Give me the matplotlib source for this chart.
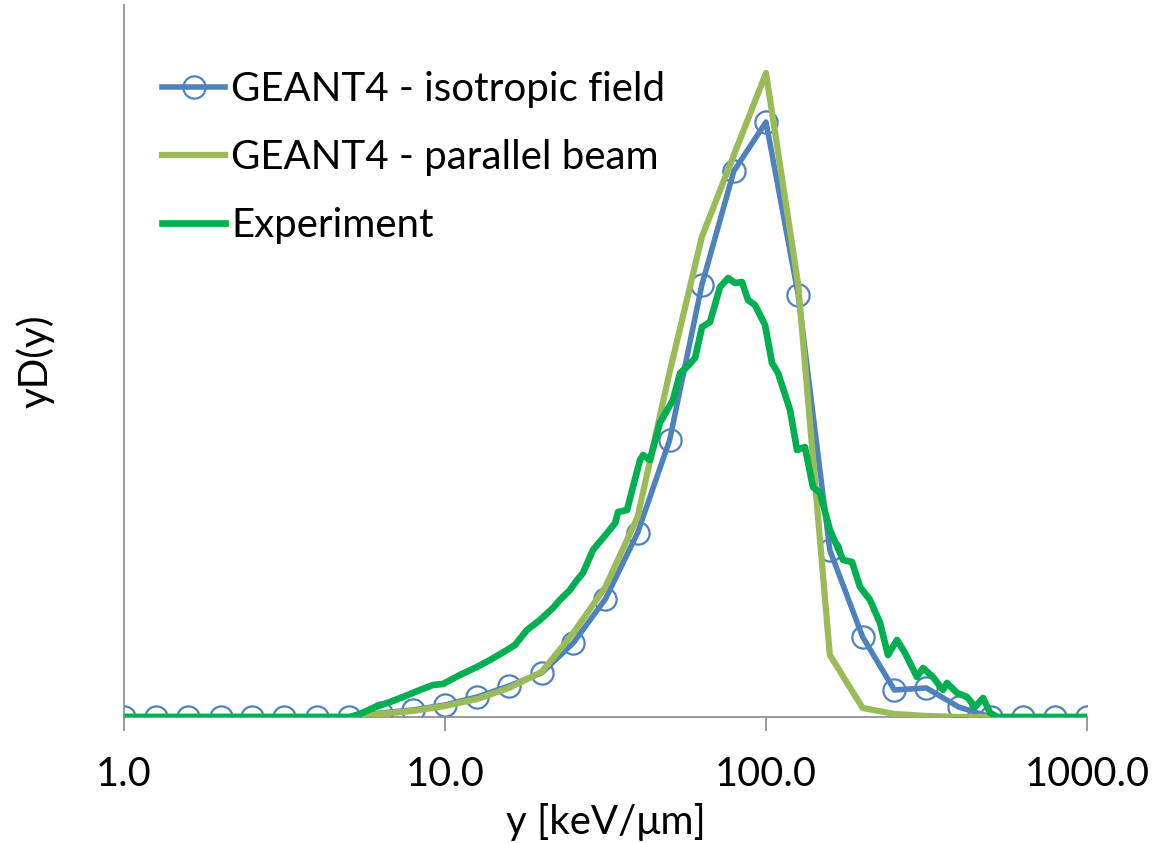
import matplotlib
matplotlib.use("Agg")
import matplotlib.pyplot as plt

plt.rcParams['font.family'] = ['Lato', 'DejaVu Sans']

# GEANT4 isotropic field (10 bins per decade)
x_iso = [1.0, 1.26, 1.58, 2.0, 2.51, 3.16, 3.98, 5.01, 6.31, 7.94,
         10.0, 12.6, 15.8, 20.0, 25.1, 31.6, 39.8, 50.1, 63.1, 79.4,
         100.0, 126.0, 158.0, 200.0, 251.0, 316.0, 398.0, 501.0, 631.0, 794.0, 1000.0]
y_iso = [0, 0, 0, 0, 0, 0, 0, 0, 4, 7,
         12, 20, 31, 44, 74, 118, 184, 277, 432, 546,
         595, 422, 167, 80, 27, 29, 10, 0, 0, 0, 0]

# GEANT4 parallel beam
x_par = [1.0, 1.26, 1.58, 2.0, 2.51, 3.16, 3.98, 5.01, 6.31, 7.94,
         10.0, 12.6, 15.8, 20.0, 25.1, 31.6, 39.8, 50.1, 63.1, 79.4,
         100.0, 126.0, 158.0, 200.0, 251.0, 316.0, 398.0, 501.0]
y_par = [0, 0, 0, 0, 0, 0, 0, 0, 3, 6,
         11, 18, 29, 45, 84, 130, 200, 345, 480, 562,
         644, 432, 62, 9, 3, 1, 0, 0]

# experiment
x_exp = [1.0, 5.06, 5.43, 5.97, 6.74, 7.40, 8.36, 9.18, 9.86, 11.13,
         12.58, 13.81, 15.61, 16.52, 18.0, 19.77, 21.7, 22.8, 24.5, 25.8,
         26.9, 28.9, 32.0, 33.9, 34.6, 36.9, 40.5, 41.4, 43.5, 46.7,
         51.3, 54.0, 56.7, 60.1, 63.2, 66.9, 71.9, 76.2, 80.0, 84.2,
         87.9, 92.4, 99.3, 104.4, 109.0, 118.8, 124.9, 132.2, 140.0, 147.3,
         158.2, 173.8, 185.3, 196.3, 210.9, 226.5, 239.9, 255.9, 271.0, 295.1,
         308.3, 331.1, 355.8, 366.3, 393.6, 422.7, 447.9, 474.4, 498.9, 524.8,
         1000.0]
y_exp = [0, 0, 3, 9, 15, 20, 27, 32, 33, 42,
         50, 57, 67, 72, 87, 97, 109, 117, 127, 137,
         144, 167, 184, 194, 205, 207, 257, 262, 257, 294,
         317, 344, 350, 359, 390, 395, 430, 439, 434, 435,
         417, 412, 392, 354, 344, 307, 267, 270, 230, 224,
         187, 157, 155, 130, 117, 94, 62, 77, 64, 40,
         49, 40, 27, 34, 24, 20, 10, 19, 4, 0,
         0]

fig = plt.figure(figsize=(11.53, 8.43), dpi=100)
ax = fig.add_axes([0.1075, 0.1495, 0.8353, 0.8445])

ax.plot(x_iso, y_iso, color='#4F81BD', lw=4, marker='o', ms=16,
        mfc='none', mec='#4F81BD', mew=1.6, label='GEANT4 - isotropic field', zorder=2)
ax.plot(x_par, y_par, color='#9BBB59', lw=4.5, label='GEANT4 - parallel beam', zorder=3)
ax.plot(x_exp, y_exp, color='#00B050', lw=4.8, label='Experiment', zorder=4)

ax.set_xscale('log')
ax.set_xlim(1, 1000)
ax.set_ylim(0, 712)
ax.set_xticks([1, 10, 100, 1000])
ax.set_xticklabels(['1.0', '10.0', '100.0', '1000.0'])
ax.minorticks_off()
ax.set_yticks([])

for s in ['top', 'right']:
    ax.spines[s].set_visible(False)
for s in ['left', 'bottom']:
    ax.spines[s].set_color('#898989')
    ax.spines[s].set_linewidth(1.2)
ax.tick_params(axis='x', direction='out', length=10, width=1.2, color='#898989',
               labelsize=28.5, pad=18)

ax.set_xlabel('y [keV/μm]', fontsize=29, labelpad=7)
ax.set_ylabel('yD(y)', fontsize=29, labelpad=50)

leg = ax.legend(loc='upper left', bbox_to_anchor=(0.0023, 0.958), frameon=False,
                fontsize=29, handlelength=1.56, handletextpad=0.15,
                labelspacing=0.77, numpoints=1)

fig.savefig('out.png', dpi=100)
